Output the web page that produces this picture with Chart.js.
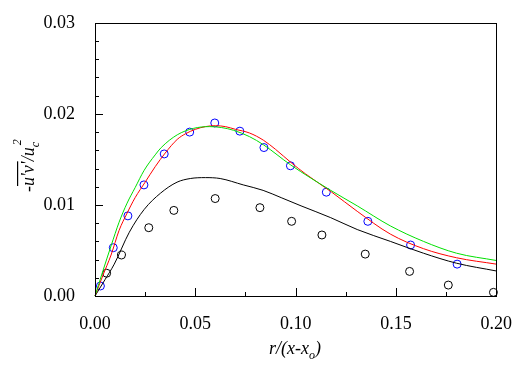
<!DOCTYPE html>
<html>
<head>
<meta charset="utf-8">
<script src="https://cdn.jsdelivr.net/npm/chart.js@4.4.1/dist/chart.umd.min.js"></script>
<style>
  html, body { margin: 0; padding: 0; background: #fff; }
  #wrap { width: 521px; height: 367px; }
</style>
</head>
<body>
<div id="wrap"><canvas id="c" width="521" height="367"></canvas></div>
<script>
// tick labels
const xTicks = [0, 0.05, 0.10, 0.15, 0.20];
const yTicks = [0, 0.01, 0.02, 0.03];

// measured points (blue and black circles)
const blueX = [0.0027, 0.0091, 0.0164, 0.0244, 0.0345, 0.0472, 0.0597, 0.0722, 0.0842, 0.0974, 0.1153, 0.1360, 0.1573, 0.1805];
const blueY = [0.0011, 0.0053, 0.0088, 0.0122, 0.0156, 0.0180, 0.0190, 0.0181, 0.0163, 0.0143, 0.0114, 0.0082, 0.0056, 0.0035];
const blackX = [0.0058, 0.0132, 0.0268, 0.0393, 0.0599, 0.0822, 0.0980, 0.1131, 0.1347, 0.1568, 0.1761, 0.1986];
const blackY = [0.0025, 0.0045, 0.0075, 0.0094, 0.0107, 0.0097, 0.0082, 0.0067, 0.0046, 0.0027, 0.0012, 0.0004];

// computed curves
const redX = [0, 0.004, 0.008, 0.012, 0.016, 0.020, 0.025, 0.030, 0.035, 0.041, 0.045, 0.050, 0.055, 0.060, 0.065, 0.070, 0.077, 0.084, 0.090, 0.098, 0.105, 0.118, 0.1307, 0.1472, 0.1637, 0.1802, 0.200];
const redY = [0, 0.0023, 0.0045, 0.0072, 0.0091, 0.0108, 0.0125, 0.0142, 0.0157, 0.0172, 0.0178, 0.0183, 0.0186, 0.0187, 0.0186, 0.0183, 0.0179, 0.0171, 0.0161, 0.0146, 0.0134, 0.0114, 0.0093, 0.0068, 0.0052, 0.0042, 0.0035];
const greenX = [0, 0.004, 0.008, 0.012, 0.016, 0.020, 0.0245, 0.030, 0.033, 0.041, 0.049, 0.057, 0.063, 0.069, 0.077, 0.084, 0.0975, 0.1175, 0.1307, 0.1472, 0.1637, 0.1802, 0.200];
const greenY = [0, 0.0028, 0.0055, 0.0081, 0.0102, 0.0119, 0.0138, 0.0155, 0.0163, 0.0177, 0.0184, 0.0186, 0.0185, 0.0182, 0.0175, 0.0166, 0.0144, 0.0116, 0.0099, 0.0077, 0.0060, 0.0047, 0.0039];
const blackLineX = [0, 0.005, 0.0096, 0.0171, 0.0245, 0.0327, 0.0409, 0.0475, 0.055, 0.0624, 0.0739, 0.0838, 0.0928, 0.1027, 0.1175, 0.1307, 0.1472, 0.1637, 0.1802, 0.200];
const blackLineY = [0, 0.0018, 0.0035, 0.0070, 0.0095, 0.0113, 0.0125, 0.0129, 0.0130, 0.0129, 0.0122, 0.0116, 0.0108, 0.0099, 0.0086, 0.0073, 0.0060, 0.0047, 0.0036, 0.00275];

const pts = (xs, ys) => xs.map((x, i) => ({ x: x, y: ys[i] }));
const serif = '"Liberation Serif", "Times New Roman", serif';

const frame = {
  id: 'frame',
  afterDraw(chart) {
    const ctx = chart.ctx, a = chart.chartArea;
    const xs = chart.scales.x, ys = chart.scales.y;
    ctx.save();
    ctx.strokeStyle = '#000';
    ctx.lineWidth = 1;
    ctx.strokeRect(Math.round(a.left) + 0.5, Math.round(a.top) + 0.5, Math.round(a.right - a.left), Math.round(a.bottom - a.top));
    ctx.beginPath();
    // inward ticks
    for (let v = 0; v <= 0.2001; v += 0.025) {
      const px = Math.round(xs.getPixelForValue(v)) + 0.5;
      const len = Math.abs(v / 0.05 - Math.round(v / 0.05)) < 1e-6 ? 8 : 4;
      ctx.moveTo(px, a.bottom);
      ctx.lineTo(px, a.bottom - len);
    }
    for (let v = 0; v <= 0.0301; v += 0.002) {
      const py = Math.round(ys.getPixelForValue(v)) + 0.5;
      const len = Math.abs(v / 0.01 - Math.round(v / 0.01)) < 1e-6 ? 8 : 4;
      ctx.moveTo(a.left, py);
      ctx.lineTo(a.left + len, py);
    }
    ctx.stroke();

    // x title r/(x-x_o)
    ctx.fillStyle = '#000';
    ctx.font = 'italic 18px ' + serif;
    ctx.textBaseline = 'alphabetic';
    const main = 'r/(x-x';
    const wMain = ctx.measureText(main).width;
    ctx.font = 'italic 12px ' + serif;
    const wSub = ctx.measureText('o').width;
    ctx.font = 'italic 18px ' + serif;
    const wClose = ctx.measureText(')').width;
    let x0 = 295 - (wMain + wSub + wClose) / 2;
    ctx.fillText(main, x0, 354);
    ctx.font = 'italic 12px ' + serif;
    ctx.fillText('o', x0 + wMain, 359);
    ctx.font = 'italic 18px ' + serif;
    ctx.fillText(')', x0 + wMain + wSub, 354);

    // y title -u'v'/u_c^2 (rotated)
    ctx.translate(34, 166);
    ctx.rotate(-Math.PI / 2);
    ctx.font = 'italic 18px ' + serif;
    const p1 = '-', p2 = "u'v'", p3 = '/u';
    const w1 = ctx.measureText(p1).width, w2 = ctx.measureText(p2).width, w3 = ctx.measureText(p3).width;
    ctx.font = 'italic 12px ' + serif;
    const wc = ctx.measureText('c').width;
    const total = w1 + w2 + w3 + wc + 2;
    let sx = -total / 2;
    ctx.font = 'italic 18px ' + serif;
    ctx.fillText(p1, sx, 0);
    ctx.fillText(p2, sx + w1, 0);
    ctx.fillRect(sx + w1, -17, w2, 1.2);
    ctx.fillText(p3, sx + w1 + w2, 0);
    ctx.font = 'italic 12px ' + serif;
    ctx.fillText('c', sx + w1 + w2 + w3, 5);
    ctx.fillText('2', sx + w1 + w2 + w3 + 2, -13);
    ctx.restore();
  }
};

new Chart(document.getElementById('c'), {
  type: 'scatter',
  data: {
    datasets: [
      { data: pts(greenX, greenY), showLine: true, borderColor: '#00e000', borderWidth: 1, pointRadius: 0, cubicInterpolationMode: 'monotone' },
      { data: pts(redX, redY), showLine: true, borderColor: '#ff0000', borderWidth: 1, pointRadius: 0, cubicInterpolationMode: 'monotone' },
      { data: pts(blackLineX, blackLineY), showLine: true, borderColor: '#000000', borderWidth: 1, pointRadius: 0, cubicInterpolationMode: 'monotone' },
      { data: pts(blueX, blueY), showLine: false, pointRadius: 4, pointBorderColor: '#0000ff', pointBackgroundColor: 'rgba(0,0,0,0)', pointBorderWidth: 1 },
      { data: pts(blackX, blackY), showLine: false, pointRadius: 4, pointBorderColor: '#000000', pointBackgroundColor: 'rgba(0,0,0,0)', pointBorderWidth: 1 }
    ]
  },
  options: {
    responsive: false,
    animation: false,
    clip: false,
    layout: { padding: { left: 0, right: 21, top: 14, bottom: 0 } },
    plugins: { legend: { display: false }, tooltip: { enabled: false } },
    scales: {
      x: {
        type: 'linear', min: 0, max: 0.2,
        grid: { display: false },
        border: { display: false },
        afterFit: s => { s.height = 71; },
        afterBuildTicks: s => { s.ticks = xTicks.map(v => ({ value: v })); },
        ticks: { color: '#000', padding: 9, font: { family: serif, size: 18 }, callback: v => v.toFixed(2) }
      },
      y: {
        type: 'linear', min: 0, max: 0.03,
        grid: { display: false },
        border: { display: false },
        afterFit: s => { s.width = 95; },
        afterBuildTicks: s => { s.ticks = yTicks.map(v => ({ value: v })); },
        ticks: { color: '#000', padding: 12, font: { family: serif, size: 18 }, callback: v => v.toFixed(2) }
      }
    }
  },
  plugins: [frame]
});
</script>
</body>
</html>
